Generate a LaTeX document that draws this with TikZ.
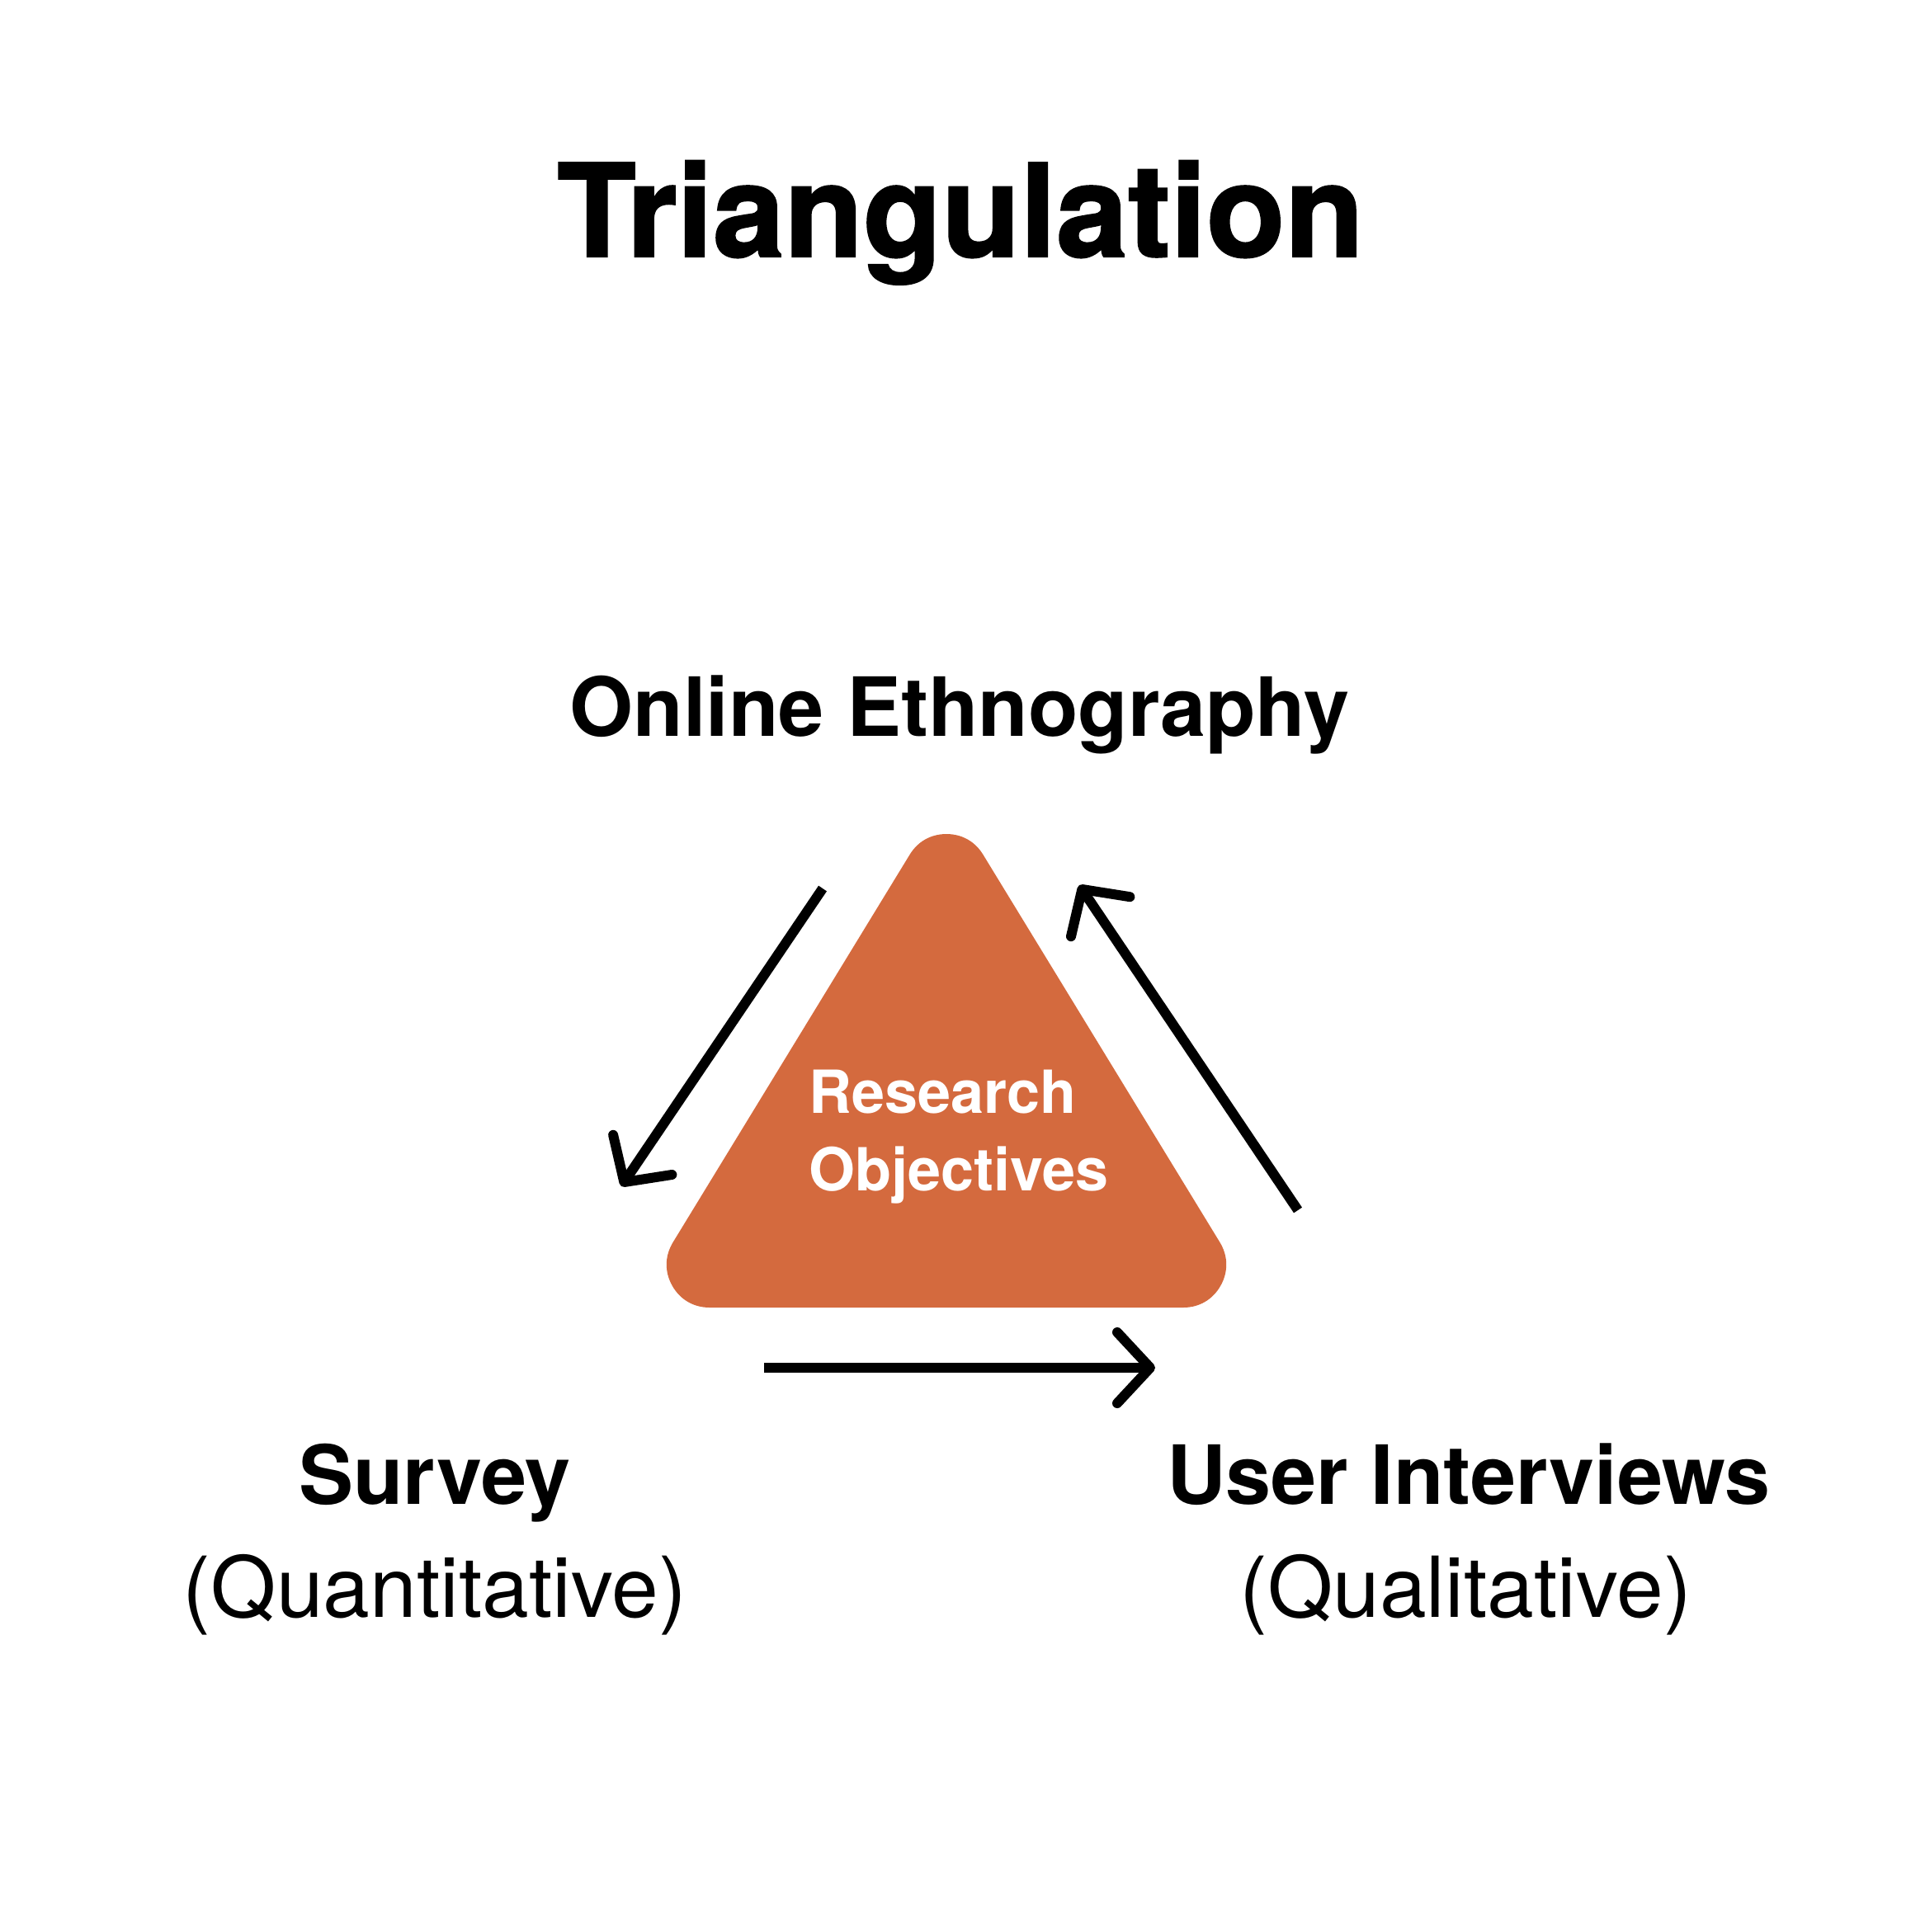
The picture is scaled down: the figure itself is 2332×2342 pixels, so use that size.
\documentclass[tikz,border=0pt]{standalone}
\usepackage{fontspec}
\setmainfont{TeX Gyre Heros}
\usepackage{tikz}
\usetikzlibrary{arrows.meta}
\usepackage{xcolor}
\definecolor{objorange}{RGB}{212,106,62}

\begin{document}
\begin{tikzpicture}[x=1pt,y=-1pt,
    flow/.style={line width=12pt,-{Straight Barb[length=40pt,width=86pt,round]}},
    method/.style={anchor=base,inner sep=0pt,font=\fontsize{99}{110}\selectfont\bfseries},
    methodnote/.style={anchor=base,inner sep=0pt,font=\fontsize{102}{110}\selectfont}]
        \useasboundingbox (0,0) rectangle (2332,2342);

        % タイトル
        \node[anchor=base,inner sep=0pt,
          font=\fontsize{156}{160}\selectfont\bfseries\addfontfeatures{FakeBold=1.5}] (title) at (1164,311) {Triangulation};

        % 三角形 (角の丸み = 線幅/2)
        \coordinate (apex) at (1147,1063);
        \coordinate (left) at (860,1533);
        \coordinate (right) at (1434,1533);
        \filldraw[objorange,line width=104pt,line join=round] (apex) -- (left) -- (right) -- cycle;
        \node[anchor=base west,inner sep=0pt,align=left,text=white,
          font=\fontsize{72}{94}\selectfont\bfseries] (goal) at (980,1443) {Research\\Objectives};

        % 手法
        \node[method] (ethno) at (1163,892) {Online Ethnography};
        \node[method] (survey) at (527,1823) {Survey};
        \node[methodnote] (quant) at (527,1960) {(Quantitative)};
        \node[method] (interview) at (1780,1823) {User Interviews};
        \node[methodnote] (qual) at (1776,1960) {(Qualitative)};

        % 矢印
        \coordinate (a1) at (997,1077);
        \coordinate (b1) at (753,1438);
        \coordinate (a2) at (926,1658);
        \coordinate (b2) at (1400,1658);
        \coordinate (a3) at (1573,1467);
        \coordinate (b3) at (1308,1073);
        \draw[flow] (a1) -- (b1);
        \draw[flow] (a2) -- (b2);
        \draw[flow] (a3) -- (b3);
      \end{tikzpicture}
\end{document}
